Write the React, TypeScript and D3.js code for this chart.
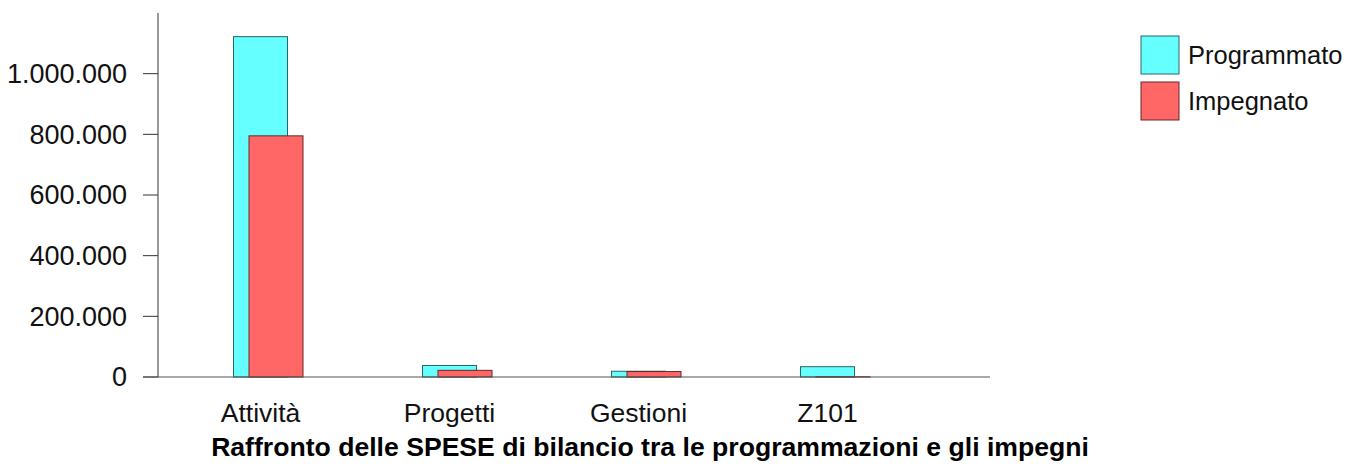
import React, { useEffect, useRef } from 'react';
import * as d3 from 'd3';

const categories = ['Attività', 'Progetti', 'Gestioni', 'Z101'];
const programmato = [1122000, 38000, 19000, 34000];
const impegnato = [795000, 22000, 18000, 800];
const yTicks = [0, 200000, 400000, 600000, 800000, 1000000];
const seriesNames = ['Programmato', 'Impegnato'];
const title = 'Raffronto delle SPESE di bilancio tra le programmazioni e gli impegni';

const itLocale = d3.formatLocale({ decimal: ',', thousands: '.', grouping: [3], currency: ['€', ''] });
const fmt = itLocale.format(',d');

const App: React.FC = () => {
  const svgRef = useRef<SVGSVGElement>(null);

  useEffect(() => {
    if (!svgRef.current) return;
    const svg = d3.select(svgRef.current);
    svg.selectAll('*').remove();

    const width = 1351;
    const height = 466;
    const font = 'Liberation Sans, Arial, Helvetica, sans-serif';
    const fill = ['#66ffff', '#ff6666'];
    const stroke = ['#296666', '#662929'];

    const axisX = 158;
    const axisRight = 990;
    const baseY = 377;

    const y = d3.scaleLinear().domain([0, 1200000]).range([baseY, 13]);
    const x = d3.scaleBand<string>().domain(categories).range([166, 922]).paddingInner(0);
    const barW = 54;
    const offset = 15.5;

    svg.attr('width', width).attr('height', height);
    const g = svg.append('g').style('font-family', font);

    // y axis
    g.append('line')
      .attr('x1', axisX).attr('x2', axisX)
      .attr('y1', 13).attr('y2', baseY)
      .attr('stroke', '#333').attr('stroke-width', 1);

    yTicks.forEach(t => {
      g.append('line')
        .attr('x1', axisX - 15).attr('x2', axisX)
        .attr('y1', y(t)).attr('y2', y(t))
        .attr('stroke', '#333').attr('stroke-width', 1);
      g.append('text')
        .attr('x', axisX - 31)
        .attr('y', y(t))
        .attr('dy', '0.35em')
        .attr('text-anchor', 'end')
        .style('font-size', '27px')
        .style('fill', '#111')
        .text(fmt(t));
    });

    // bars
    const series = [programmato, impegnato];
    series.forEach((vals, s) => {
      g.selectAll(`.bar${s}`)
        .data(categories)
        .enter()
        .append('rect')
        .attr('class', `bar${s}`)
        .attr('x', c => (x(c) as number) + x.bandwidth() / 2 - barW / 2 + s * offset)
        .attr('y', (c, i) => y(vals[i]))
        .attr('width', barW)
        .attr('height', (c, i) => baseY - y(vals[i]))
        .attr('fill', fill[s])
        .attr('stroke', stroke[s])
        .attr('stroke-width', 1);
    });

    // x axis
    g.append('line')
      .attr('x1', axisX - 15).attr('x2', axisRight)
      .attr('y1', baseY).attr('y2', baseY)
      .attr('stroke', '#555').attr('stroke-width', 1.2);

    categories.forEach(c => {
      g.append('text')
        .attr('x', (x(c) as number) + x.bandwidth() / 2)
        .attr('y', 422)
        .attr('text-anchor', 'middle')
        .style('font-size', '26.5px')
        .style('fill', '#111')
        .text(c);
    });

    // title
    g.append('text')
      .attr('x', 650)
      .attr('y', 456)
      .attr('text-anchor', 'middle')
      .style('font-size', '26.6px')
      .style('font-weight', 'bold')
      .style('fill', '#000')
      .text(title);

    // legend
    seriesNames.forEach((name, i) => {
      const ly = 36 + i * 46;
      g.append('rect')
        .attr('x', 1141).attr('y', ly)
        .attr('width', 38).attr('height', 38)
        .attr('fill', fill[i])
        .attr('stroke', stroke[i]);
      g.append('text')
        .attr('x', 1188)
        .attr('y', ly + 19)
        .attr('dy', '0.35em')
        .style('font-size', '25.5px')
        .style('fill', '#111')
        .text(name);
    });
  }, []);

  return <svg ref={svgRef} style={{ position: 'absolute', left: 0, top: 0, display: 'block' }} />;
};

export default App;
